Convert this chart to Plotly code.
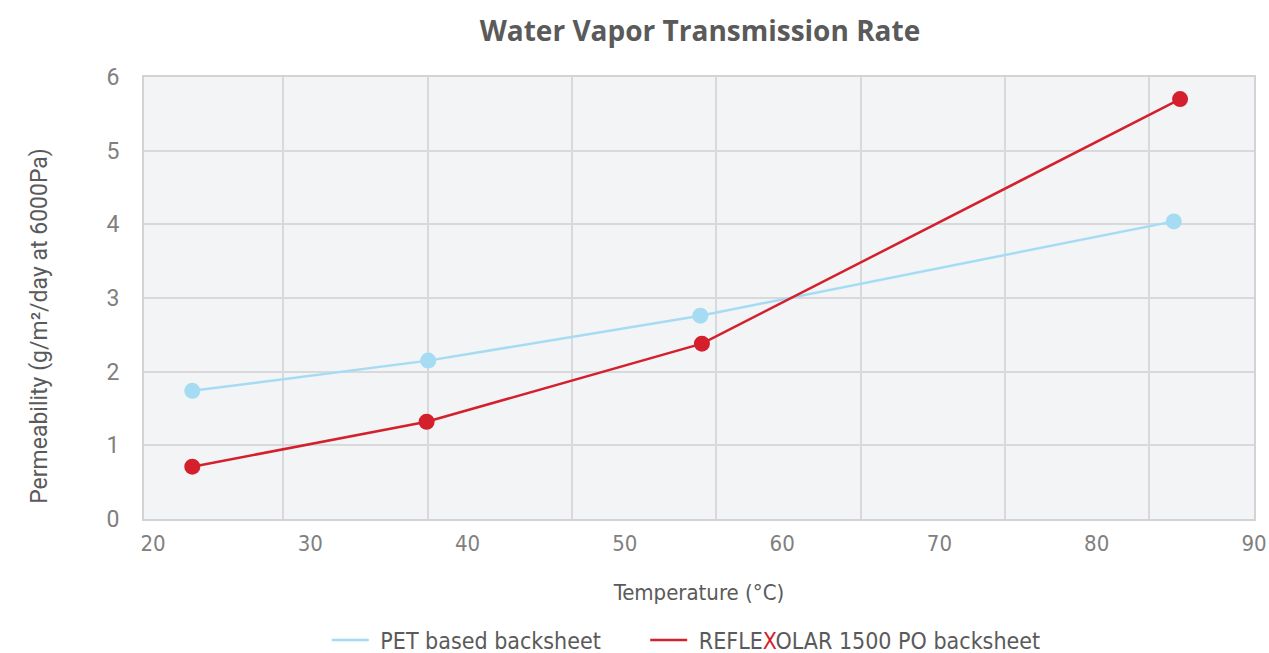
import plotly.graph_objects as go

# Data
pet_temp = [22.5, 37.5, 54.8, 84.9]
pet_perm = [1.74, 2.15, 2.76, 4.04]
refl_temp = [22.5, 37.4, 54.9, 85.3]
refl_perm = [0.71, 1.32, 2.38, 5.70]

x_ticks = [20, 30, 40, 50, 60, 70, 80, 90]
y_ticks = [0, 1, 2, 3, 4, 5, 6]

NB = "\u00a0"
series = [
    (NB + "PET based backsheet" + NB * 6, pet_temp, pet_perm, "#a5dcf4"),
    (NB + "REFLE<span style='color:#d4202c'>X</span>OLAR 1500 PO backsheet", refl_temp, refl_perm, "#d4202c"),
]

GRID = "#d9d9dc"
TICK = "#808080"
TEXT = "#5a5a5a"
COND = "DejaVu Sans Condensed"

fig = go.Figure()
# invisible helper trace so the grid axis is drawn
fig.add_trace(go.Scatter(x=[], y=[], xaxis="x2", yaxis="y", showlegend=False,
                         hoverinfo="skip", mode="lines"))
for i, (name, xs, ys, col) in enumerate(series):
    fig.add_trace(go.Scatter(
        x=xs, y=ys, mode="lines", name=name, legendgroup=f"g{i}",
        line=dict(color=col, width=2.5),
    ))
    fig.add_trace(go.Scatter(
        x=xs, y=ys, mode="markers", name=name, legendgroup=f"g{i}", showlegend=False,
        marker=dict(color=col, size=16),
    ))

fig.add_annotation(
    text="Permeability (g/m²/day at 6000Pa)", textangle=-90,
    xref="paper", yref="paper", x=-0.0937, y=0.437,
    xanchor="center", yanchor="middle", showarrow=False,
    font=dict(family="Roboto", size=23, color=TEXT),
)

fig.update_layout(
    width=1269, height=653,
    margin=dict(l=144, r=15, t=77, b=134),
    paper_bgcolor="white",
    plot_bgcolor="#f3f4f6",
    title=dict(text="<b>Water Vapor Transmission Rate</b>", x=0.5516, xanchor="center",
               y=0.952, yanchor="middle",
               font=dict(family="Open Sans", size=28, color=TEXT)),
    xaxis=dict(
        range=[19.43, 90.0], tickvals=x_ticks, ticktext=[str(v) for v in x_ticks],
        showgrid=False, zeroline=False, automargin=False,
        showline=True, mirror=True, linecolor="#d3d3d6", linewidth=2,
        ticks="outside", ticklen=4, tickcolor="rgba(0,0,0,0)",
        tickfont=dict(family=COND, size=22, color=TICK),
        title=dict(text="Temperature (°C)", standoff=29,
                   font=dict(family=COND, size=22, color=TEXT)),
    ),
    xaxis2=dict(
        overlaying="x", anchor="y", side="bottom",
        range=[0.035, 7.726], dtick=1, tick0=0, automargin=False,
        showgrid=True, gridcolor=GRID, gridwidth=1.5,
        showticklabels=False, zeroline=False, showline=False, ticks="",
    ),
    yaxis=dict(
        range=[0, 6], tickvals=y_ticks, automargin=False,
        showgrid=True, gridcolor=GRID, gridwidth=1.5, zeroline=False,
        showline=True, mirror=True, linecolor="#d3d3d6", linewidth=2,
        ticks="outside", ticklen=18, tickcolor="rgba(0,0,0,0)",
        tickfont=dict(family="Roboto", size=23, color=TICK),
    ),
    legend=dict(orientation="h", x=0.2575, xanchor="left",
                xref="container", yref="container", y=0.02, yanchor="middle",
                font=dict(family=COND, size=23, color=TEXT),
                itemwidth=37, tracegroupgap=0),
    showlegend=True,
)

fig.write_html("out.html")
